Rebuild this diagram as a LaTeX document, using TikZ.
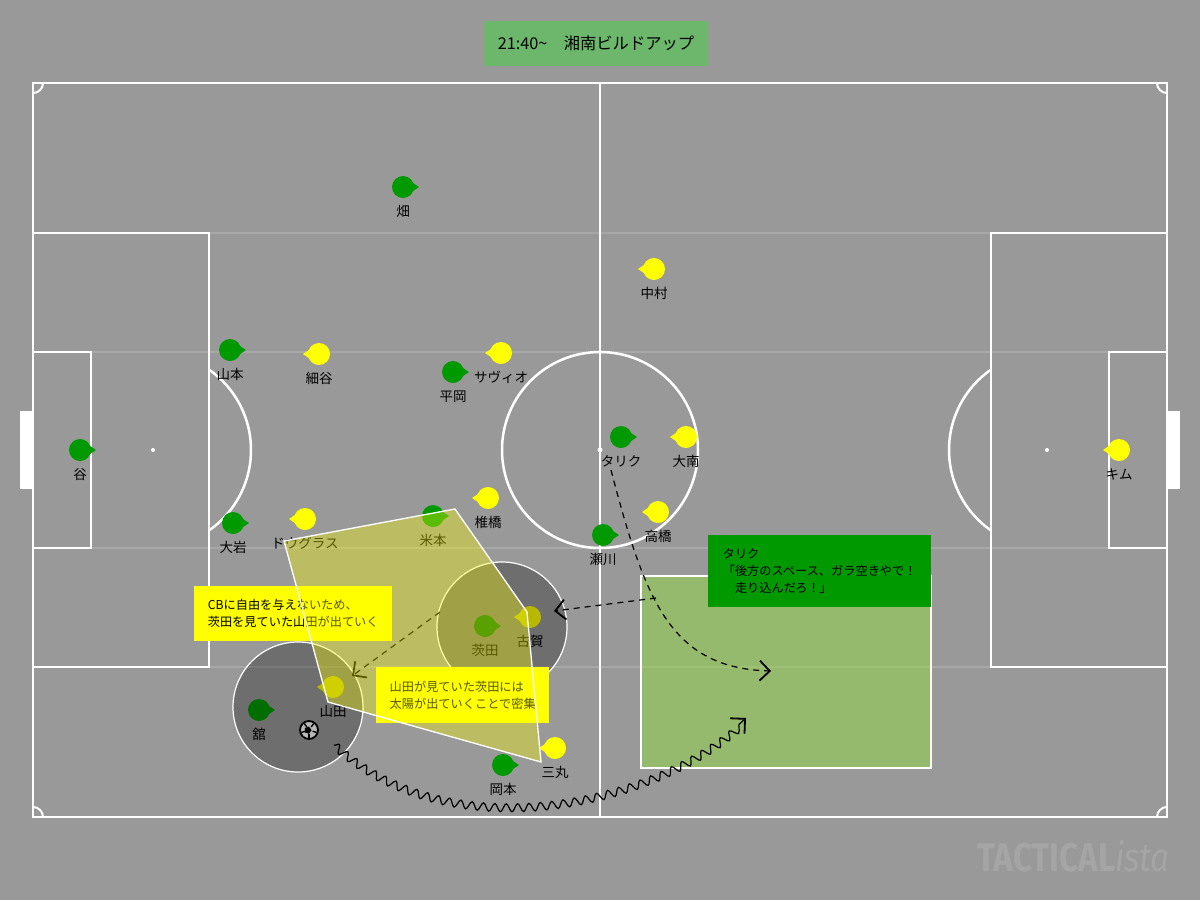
\documentclass[tikz,border=0pt]{standalone}
\usepackage{fontspec}
\setmainfont{Noto Sans CJK JP}
\newfontfamily\markfont{Fira Sans}
\usetikzlibrary{arrows.meta,positioning,decorations.pathmorphing}
\definecolor{pitchgray}{HTML}{999999}
\definecolor{homegreen}{HTML}{009900}
\definecolor{awayyellow}{HTML}{FFFF00}
\definecolor{titlegreen}{HTML}{6CB76B}
\definecolor{spacegreen}{RGB}{147,219,67}
\definecolor{markgray}{HTML}{A5A5A5}
\tikzset{
  pline/.style={draw=white, line width=2.5pt},
  zoneline/.style={draw=white, draw opacity=0.15, line width=2pt},
  homeplayer/.style={circle, fill=homegreen, minimum size=22pt, inner sep=0pt},
  awayplayer/.style={circle, fill=awayyellow, minimum size=22pt, inner sep=0pt},
  plabel/.style={font=\fontsize{13.5}{15}\selectfont, text=black, inner sep=0pt},
  notebox/.style={fill=awayyellow, align=left, anchor=north west, inner sep=0pt,
    font=\fontsize{12.2}{17}\selectfont},
  callbox/.style={fill=homegreen, align=left, anchor=north west, inner sep=0pt,
    font=\fontsize{12.2}{17}\selectfont},
  zonecircle/.style={fill=black, fill opacity=0.28, draw=white, line width=1.2pt},
  pressarea/.style={fill=awayyellow, fill opacity=0.35, draw=white, line width=1.3pt},
  runarrow/.style={-{Straight Barb[length=10pt,width=20pt,line width=1.8pt]},
    dash pattern=on 6pt off 5pt, line width=1.2pt, draw=black},
  dribble/.style={-{Straight Barb[length=10.5pt,width=21pt,line width=1.8pt]},
    line width=1.2pt, decorate,
    decoration={snake, amplitude=4pt, segment length=11.5pt, post length=8pt}}
}

\begin{document}
\begin{tikzpicture}[x=1pt, y=-1pt]
  \useasboundingbox (0,0) rectangle (1200,900);
  \fill[pitchgray] (0,0) rectangle (1200,900);

  \foreach \zy in {233,352,548,667}
    \draw[zoneline] (33,\zy) -- (1167,\zy);

  \fill[white] (20,411) rectangle (33,489);
  \fill[white] (1167,411) rectangle (1180,489);
  \draw[pline] (33,83) rectangle (1167,817);
  \draw[pline] (600,83) -- (600,817);
  \draw[pline] (600,450) circle[radius=98];
  \draw[pline] (33,233) rectangle (209,667);
  \draw[pline] (33,352) rectangle (91,548);
  \draw[pline] (1167,233) rectangle (991,667);
  \draw[pline] (1167,352) rectangle (1109,548);
  \fill[white] (600,450) circle[radius=2.5];
  \fill[white] (153,450) circle[radius=2];
  \fill[white] (1047,450) circle[radius=2];
  \begin{scope}
    \clip (209,83) rectangle (991,817);
    \draw[pline] (153,450) circle[radius=98];
    \draw[pline] (1047,450) circle[radius=98];
  \end{scope}
  \begin{scope}
    \clip (33,83) rectangle (1167,817);
    \foreach \cx/\cy in {33/83,1167/83,33/817,1167/817}
      \draw[white, line width=2pt] (\cx,\cy) circle[radius=10];
  \end{scope}

  \node[fill=titlegreen, minimum width=224pt, minimum height=45pt, inner sep=0pt,
    font=\fontsize{16.3}{18}\selectfont] (title) at (596,43.5) {21:40\textasciitilde　湘南ビルドアップ};

  \fill[spacegreen, fill opacity=0.5] (641,576) rectangle (931,768);
  \draw[white, line width=1.3pt] (641,576) rectangle (931,768);

  \foreach \pid/\px/\py/\pname in {hata/403/187/畑, pyamamoto/230/350/山本,
      hiraoka/453/372/平岡, tani/80/450/谷, tarik/621/437/タリク, oiwa/233/523/大岩,
      yonemoto/433/516/米本, segawa/603/535/瀬川, ibarada/485/626/茨田,
      tachi/259/710/舘, okamoto/503/765/岡本} {
    \fill[homegreen] ({\px+10},{\py-4}) -- ({\px+16},\py) -- ({\px+10},{\py+4}) -- cycle;
    \node[homeplayer] (\pid) at (\px,\py) {};
    \node[plabel] (\pid-l) at ({\px},{\py+24.5}) {\pname};
  }
  \foreach \pid/\px/\py/\pname in {nakamura/654/269/中村, hosoya/319/354/細谷,
      savio/501/353/サヴィオ, ominami/686/437/大南, kim/1119/450/キム,
      shiihashi/488/498/椎橋, takahashi/658/512/高橋, douglas/305/519/ドウグラス,
      koga/530/617/古賀, yamada/333/687/山田, mimaru/555/748/三丸} {
    \fill[awayyellow] ({\px-10},{\py-4}) -- ({\px-16},\py) -- ({\px-10},{\py+4}) -- cycle;
    \node[awayplayer] (\pid) at (\px,\py) {};
    \node[plabel] (\pid-l) at ({\px},{\py+24.5}) {\pname};
  }

  \node[circle, fill=white, draw=black, line width=1.8pt, minimum size=18pt, inner sep=0pt]
    (ball) at (309,730) {};
  \fill[black] (ball.center) ++(90:3.8) -- ++(-54:3.8*1.1756) -- ++(-126:3.8*1.1756)
    -- ++(162:3.8*1.1756) -- ++(90:3.8*1.1756) -- cycle;
  \foreach \ba in {90,162,234,306,18}
    \draw[black, line width=1.4pt] (ball.center) ++(\ba:3.8) -- ++(\ba:4.2);

  \draw[zonecircle] (298,707) circle[radius=65];
  \draw[zonecircle] (502,627) circle[radius=65];

  \coordinate (pressStart) at (440,612);
  \coordinate (pressEnd) at (352,676);
  \draw[runarrow] (pressStart) -- (pressEnd);

  \node[notebox, minimum width=198pt, minimum height=55pt] (why) at (194,586)
    {CBに自由を与えないため、\\茨田を見ていた山田が出ていく};
  \node[notebox, minimum width=173pt, minimum height=56pt] (crowd) at (376,667)
    {山田が見ていた茨田には\\太陽が出ていくことで密集};

  \draw[pressarea] (284,541) -- (455,509) -- (527,612) -- (541,762) -- (328,702) -- cycle;

  \node[callbox, minimum width=223pt, minimum height=72pt] (call) at (708,535)
    {タリク\\「後方のスペース、ガラ空きやで！\\　走り込んだろ！」};

  \coordinate (runStart) at (611,470);
  \coordinate (runEnd) at (771,671);
  \draw[runarrow] (runStart) .. controls (645,600) and (670,668) .. (runEnd);
  \coordinate (callStart) at (656,598);
  \coordinate (callEnd) at (554,611);
  \draw[runarrow] (callStart) -- (callEnd);

  \coordinate (dribStart) at (334,745);
  \coordinate (dribEnd) at (746,718);
  \draw[dribble] (dribStart) .. controls (450,850) and (655,805) .. (dribEnd);

  \node[anchor=base east, inner sep=0pt, text=markgray] (mark) at (1170,871)
    {\scalebox{0.83}[1]{\markfont\fontsize{40}{40}\selectfont\bfseries TACTICAL{\mdseries\itshape ista}}};
\end{tikzpicture}
\end{document}
